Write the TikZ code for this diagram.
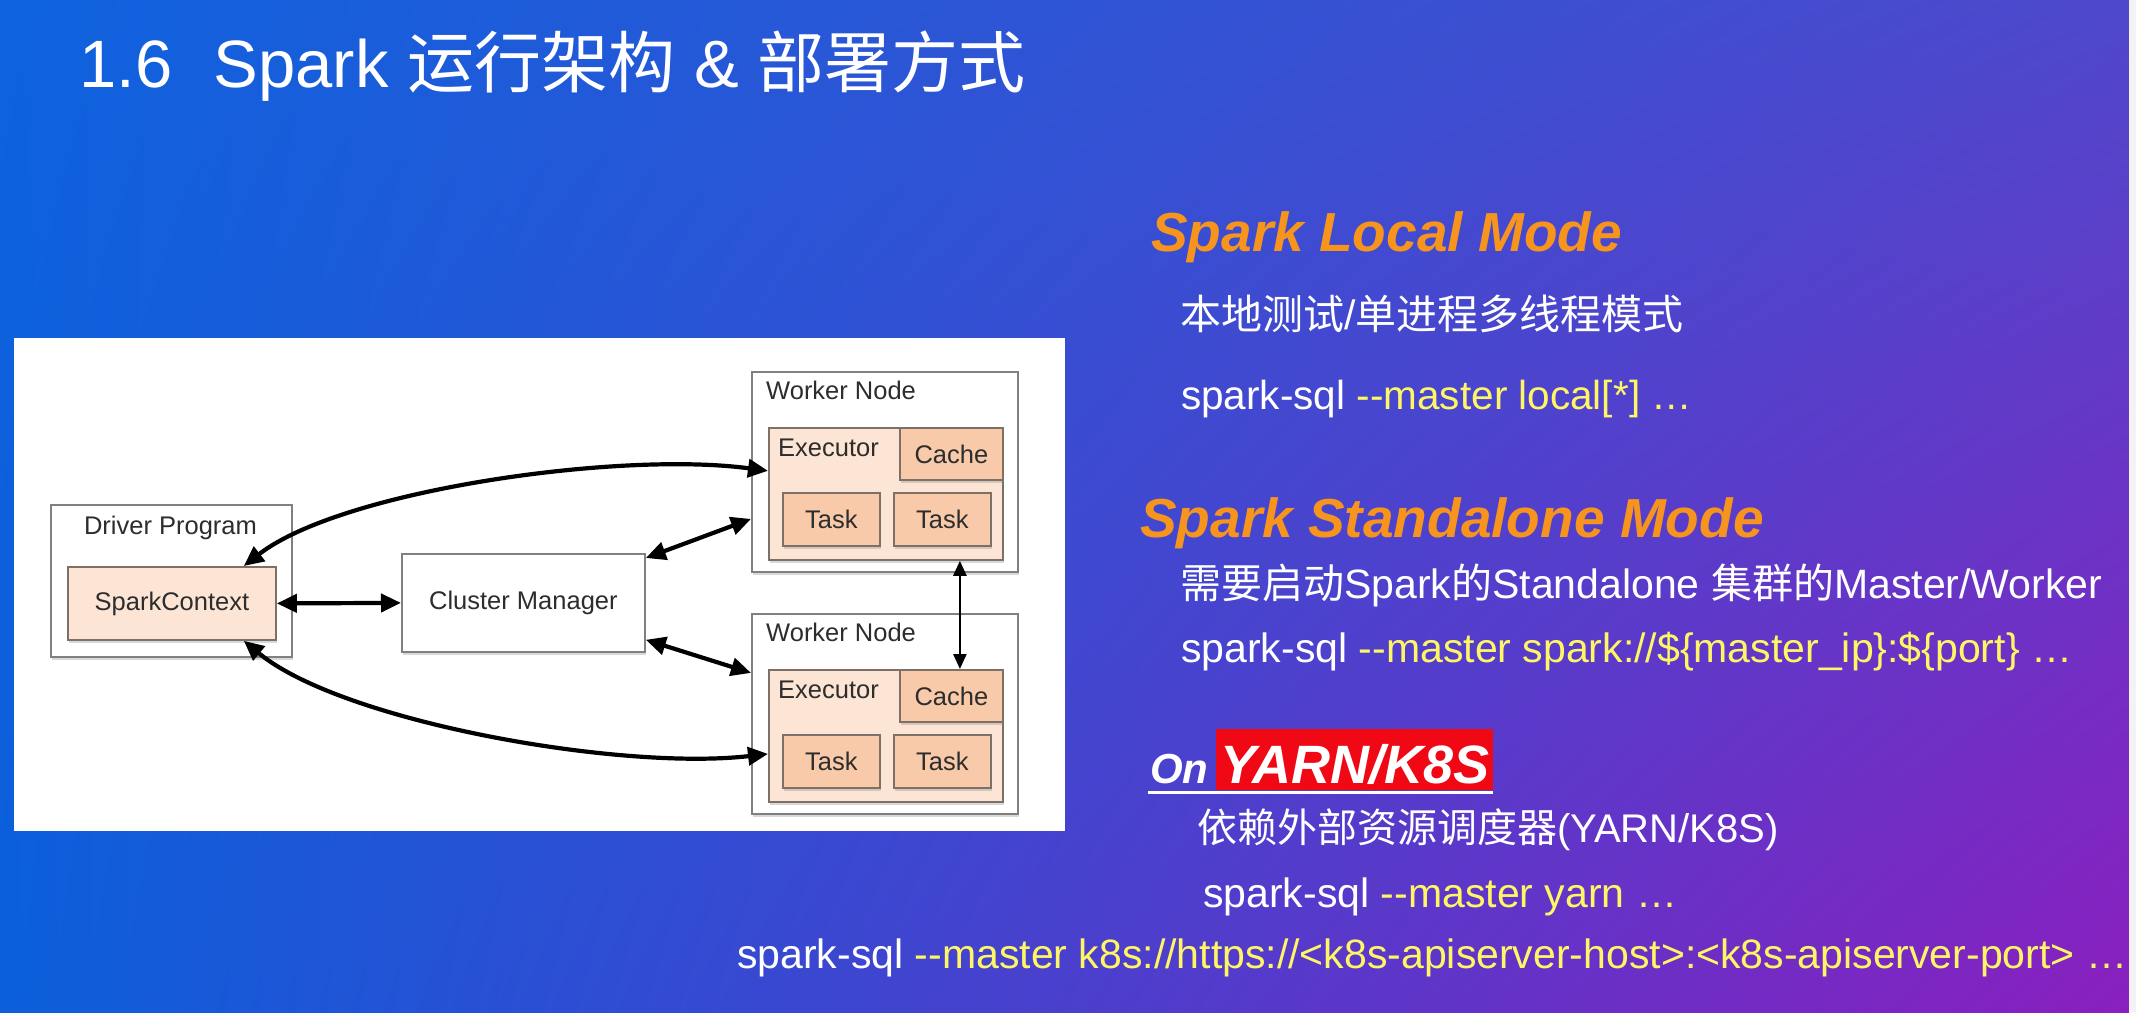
\documentclass[tikz,border=0pt]{standalone}
\usepackage{fontspec}
\setmainfont{Liberation Sans}
\newfontfamily\cjk{Noto Sans CJK SC}
\usetikzlibrary{arrows.meta,shadows,shadings}
\definecolor{bgUL}{RGB}{14,98,222}
\definecolor{bgUR}{RGB}{78,72,204}
\definecolor{bgLL}{RGB}{11,95,219}
\definecolor{bgLR}{RGB}{138,31,191}
\definecolor{stripC}{RGB}{243,243,246}
\definecolor{orangeT}{RGB}{247,148,30}
\definecolor{cmdY}{RGB}{255,246,102}
\definecolor{redbox}{RGB}{240,8,20}
\definecolor{boxline}{RGB}{128,128,128}
\definecolor{peachA}{RGB}{252,229,212}
\definecolor{peachB}{RGB}{248,202,170}
\definecolor{peachLine}{RGB}{125,112,102}
\definecolor{dtext}{RGB}{45,45,45}
\begin{document}
\begin{tikzpicture}[x=1pt,y=-1pt,
  box/.style={draw=boxline, line width=1.8pt, fill=white, inner sep=0pt, anchor=north west,
    text=dtext, font=\fontsize{25.5}{30}\selectfont,
    drop shadow={shadow xshift=1.5pt,shadow yshift=-3pt,opacity=0.3}},
  pbox/.style={box, fill=peachA, draw=peachLine},
  tbox/.style={box, fill=peachB, draw=peachLine},
  dlabel/.style={text=dtext, font=\fontsize{25.5}{30}\selectfont, inner sep=0pt},
  conn/.style={{Triangle[length=20pt,width=18pt]}-{Triangle[length=20pt,width=18pt]}, line width=4.2pt, draw=black},
  thinconn/.style={{Triangle[length=15pt,width=13pt]}-{Triangle[length=15pt,width=13pt]}, line width=2.6pt, draw=black},
  txt/.style={anchor=base west, inner sep=0pt, text=white},
  head/.style={anchor=base west, inner sep=0pt, text=orangeT, font=\fontsize{55}{60}\selectfont\bfseries\itshape},
]
\useasboundingbox (0,0) rectangle (2136,1012);
\shade[shading=bilinear interpolation, upper left=bgUL,upper right=bgUR,lower left=bgLL,lower right=bgLR] (0,0) rectangle (2129,1012);
\fill[stripC] (2129,0) rectangle (2136,1012);

% title
\node[txt, font=\fontsize{67}{72}\selectfont] (title) at (79,87) {1.6\hspace{0.62em}Spark {\cjk 运行架构} \& {\cjk 部署方式}};

% diagram panel
\fill[white] (14,338) rectangle (1065,831);

\node[box, minimum width=241pt, minimum height=152pt] (dp) at (50,504) {};
\node[dlabel, anchor=base] (dpl) at (170.5,534) {Driver Program};
\node[pbox, minimum width=208pt, minimum height=73pt] (sc) at (67,566) {SparkContext};
\node[box, minimum width=243pt, minimum height=98pt] (cm) at (401,553) {Cluster Manager};

\node[box, minimum width=266pt, minimum height=200pt] (w1) at (751,371) {};
\node[dlabel, anchor=base west] (w1l) at (766,399) {Worker Node};
\node[pbox, minimum width=234pt, minimum height=132pt] (ex1) at (768,427) {};
\node[dlabel, anchor=base west] (ex1l) at (778,456) {Executor};
\node[tbox, minimum width=103pt, minimum height=52pt] (c1) at (899,427) {Cache};
\node[tbox, minimum width=97pt, minimum height=53pt] (t1a) at (782,492) {Task};
\node[tbox, minimum width=97pt, minimum height=53pt] (t1b) at (893,492) {Task};

\node[box, minimum width=266pt, minimum height=200pt] (w2) at (751,613) {};
\node[dlabel, anchor=base west] (w2l) at (766,641) {Worker Node};
\node[pbox, minimum width=234pt, minimum height=132pt] (ex2) at (768,669) {};
\node[dlabel, anchor=base west] (ex2l) at (778,698) {Executor};
\node[tbox, minimum width=103pt, minimum height=52pt] (c2) at (899,669) {Cache};
\node[tbox, minimum width=97pt, minimum height=53pt] (t2a) at (782,734) {Task};
\node[tbox, minimum width=97pt, minimum height=53pt] (t2b) at (893,734) {Task};

% connectors
\draw[conn] (sc.east) -- (cm.west);
\draw[conn] ([yshift=-5pt]cm.north east) -- ([yshift=-47pt]w1.west);
\draw[conn] ([yshift=13pt]cm.south east) -- ([yshift=41pt]w2.west);
\draw[conn] ([xshift=-33pt]sc.north east) .. controls +(98,-76) and +(-148,-20) .. ([yshift=23pt]ex1.west);
\draw[conn] ([xshift=-33pt]sc.south east) .. controls +(98,81) and +(-148,17) .. ([yshift=-18pt]ex2.west);
\draw[thinconn] ([xshift=74pt]ex1.south) -- ([xshift=8.5pt]c2.north);

% right side text
\node[head] (h1) at (1151,251) {Spark Local Mode};
\node[txt, font=\fontsize{41}{46}\selectfont] (l1) at (1180,329) {{\cjk 本地测试}/{\cjk 单进程多线程模式}};
\node[txt, font=\fontsize{40.5}{46}\selectfont] (l2) at (1181,409) {spark-sql \textcolor{cmdY}{-{}-master local[*] …}};

\node[head] (h2) at (1140,537) {Spark Standalone Mode};
\node[txt, font=\fontsize{41}{46}\selectfont] (l3) at (1180,598) {{\cjk 需要启动}Spark{\cjk 的}Standalone {\cjk 集群的}Master/Worker};
\node[txt, font=\fontsize{41}{46}\selectfont] (l4) at (1181,662) {spark-sql \textcolor{cmdY}{-{}-master spark://\$\{master\_ip\}:\$\{port\} …}};

\node[fill=redbox, minimum width=277pt, minimum height=61pt, inner sep=0pt, anchor=north west] (ykbox) at (1216,729) {};
\node[txt, font=\fontsize{54}{60}\selectfont\bfseries\itshape] (yk) at (1220,783) {YARN/K8S};
\node[txt, font=\fontsize{42}{48}\selectfont\bfseries\itshape] (on) at (1150,783) {On};
\coordinate (ulA) at (1148,792);
\coordinate (ulB) at (1493,792);
\draw[white, line width=3pt] (ulA) -- (ulB);

\node[txt, font=\fontsize{40}{46}\selectfont] (l5) at (1197,842) {{\cjk 依赖外部资源调度器}(YARN/K8S)};
\node[txt, font=\fontsize{41}{46}\selectfont] (l6) at (1203,907) {spark-sql \textcolor{cmdY}{-{}-master yarn …}};
\node[txt, font=\fontsize{41}{46}\selectfont] (l7) at (737,968) {spark-sql \textcolor{cmdY}{-{}-master k8s://https://<k8s-apiserver-host>:<k8s-apiserver-port> …}};
\end{tikzpicture}
\end{document}
